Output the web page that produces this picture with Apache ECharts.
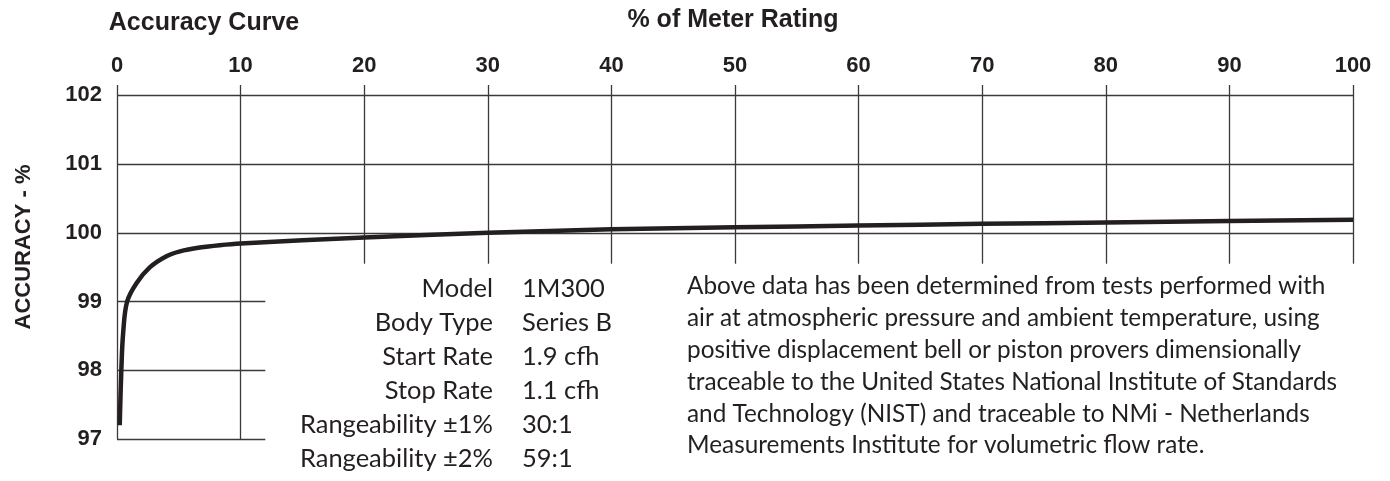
<!DOCTYPE html>
<html><head><meta charset="utf-8">
<script src="https://cdn.jsdelivr.net/npm/echarts@6/dist/echarts.min.js"></script>
<style>html,body{margin:0;padding:0;background:#fff}#c{width:1390px;height:481px}</style>
</head><body><div id="c"></div>
<script>
// ---- data ----
const xTicks = [0, 10, 20, 30, 40, 50, 60, 70, 80, 90, 100];
const yTicks = [97, 98, 99, 100, 101, 102];
const curveX = [0.22, 0.35, 0.5, 0.82, 1.59, 2.67, 4.0, 5.1, 6.7, 8.3, 10, 20, 30, 40, 50, 60, 70, 80, 90, 100];
const curveY = [97.20, 98.0, 98.55, 99.0, 99.27, 99.50, 99.66, 99.73, 99.785, 99.82, 99.845, 99.93, 100.0, 100.05, 100.08, 100.105, 100.13, 100.15, 100.17, 100.19];
const specLabels = ['Model', 'Body Type', 'Start Rate', 'Stop Rate', 'Rangeability ±1%', 'Rangeability ±2%'];
const specValues = ['1M300', 'Series B', '1.9 cfh', '1.1 cfh', '30:1', '59:1'];
const noteLines = [
  'Above data has been determined from tests performed with',
  'air at atmospheric pressure and ambient temperature, using',
  'positive displacement bell or piston provers dimensionally',
  'traceable to the United States National Institute of Standards',
  'and Technology (NIST) and traceable to NMi - Netherlands',
  'Measurements Institute for volumetric flow rate.'
];
const chartTitle = 'Accuracy Curve';
const xName = '% of Meter Rating';
const yName = 'ACCURACY - %';

// ---- layout ----
const INK = '#231f20';
const GRID = '#3a3a3a';
const yMin = 97, yMax = 102.15;
const bodyFont = 'Lato, "Open Sans", sans-serif';
const headFont = '"Liberation Sans", Arial, sans-serif';

function fitSize(text, targetW, weight) {
  const c = document.createElement('canvas').getContext('2d');
  c.font = (weight || 'normal') + ' 100px ' + bodyFont;
  return 100 * targetW / c.measureText(text).width;
}
const specFs = fitSize('Rangeability ±1%', 193);
const noteFs = fitSize(noteLines[3], 650);

// grid lines (drawn through the axes' scales)
const gridLines = [];
yTicks.forEach(v => {
  const xEnd = v >= 100 ? 100 : 12;
  gridLines.push([{coord: [0, v]}, {coord: [xEnd, v]}]);
});
xTicks.forEach(v => {
  const yEnd = v <= 10 ? yMin : 99.55;
  gridLines.push([{coord: [v, yMax]}, {coord: [v, yEnd]}]);
});

const graphics = [];
graphics.push({type: 'text', style: {text: chartTitle, x: 204, y: 23, align: 'center', verticalAlign: 'middle',
  font: 'bold 25px ' + headFont, fill: INK}});
graphics.push({type: 'text', style: {text: xName, x: 733, y: 20, align: 'center', verticalAlign: 'middle',
  font: 'bold 25px ' + headFont, fill: INK}});
graphics.push({type: 'text', x: 24, y: 247, rotation: Math.PI / 2, style: {text: yName, x: 0, y: 0, align: 'center', verticalAlign: 'middle',
  font: 'bold 22px ' + headFont, fill: INK}});
const specBase = [296.7, 331, 365, 399, 433, 467];
specLabels.forEach((t, i) => {
  graphics.push({type: 'text', style: {text: t, x: 493, y: specBase[i] - specFs * 0.33, align: 'right', verticalAlign: 'middle',
    font: specFs.toFixed(2) + 'px ' + bodyFont, fill: INK}});
  graphics.push({type: 'text', style: {text: specValues[i], x: 522, y: specBase[i] - specFs * 0.33, align: 'left', verticalAlign: 'middle',
    font: specFs.toFixed(2) + 'px ' + bodyFont, fill: INK}});
});
const noteBase = [294.3, 326.2, 358, 390, 421.7, 453.3];
noteLines.forEach((t, i) => {
  graphics.push({type: 'text', style: {text: t, x: 687, y: noteBase[i] - noteFs * 0.33, align: 'left', verticalAlign: 'middle',
    font: noteFs.toFixed(2) + 'px ' + bodyFont, fill: INK}});
});

const chart = echarts.init(document.getElementById('c'), null, {renderer: 'canvas'});
chart.setOption({
  animation: false,
  backgroundColor: '#fff',
  grid: {left: 117, right: 37, top: 85, bottom: 42, containLabel: false},
  xAxis: {
    type: 'value', position: 'top', min: 0, max: 100, interval: 10,
    axisLine: {show: false}, axisTick: {show: false}, splitLine: {show: false},
    axisLabel: {margin: 8, color: INK, fontWeight: 'bold', fontSize: 22, fontFamily: headFont,
      formatter: v => xTicks.includes(v) ? String(v) : ''}
  },
  yAxis: {
    type: 'value', min: yMin, max: yMax, interval: 1,
    axisLine: {show: false}, axisTick: {show: false}, splitLine: {show: false},
    axisLabel: {margin: 15, color: INK, fontWeight: 'bold', fontSize: 22, fontFamily: headFont,
      formatter: v => yTicks.includes(Math.round(v * 1000) / 1000) ? String(Math.round(v)) : ''}
  },
  series: [{
    type: 'line',
    data: curveX.map((x, i) => [x, curveY[i]]),
    showSymbol: false, symbol: 'none', smooth: 0.35, clip: false,
    lineStyle: {color: INK, width: 4.5, cap: 'butt'},
    z: 5,
    markLine: {
      silent: true, symbol: ['none', 'none'], label: {show: false},
      lineStyle: {color: GRID, width: 1.3, type: 'solid'},
      emphasis: {disabled: true},
      data: gridLines
    }
  }],
  graphic: graphics
});
</script></body></html>
